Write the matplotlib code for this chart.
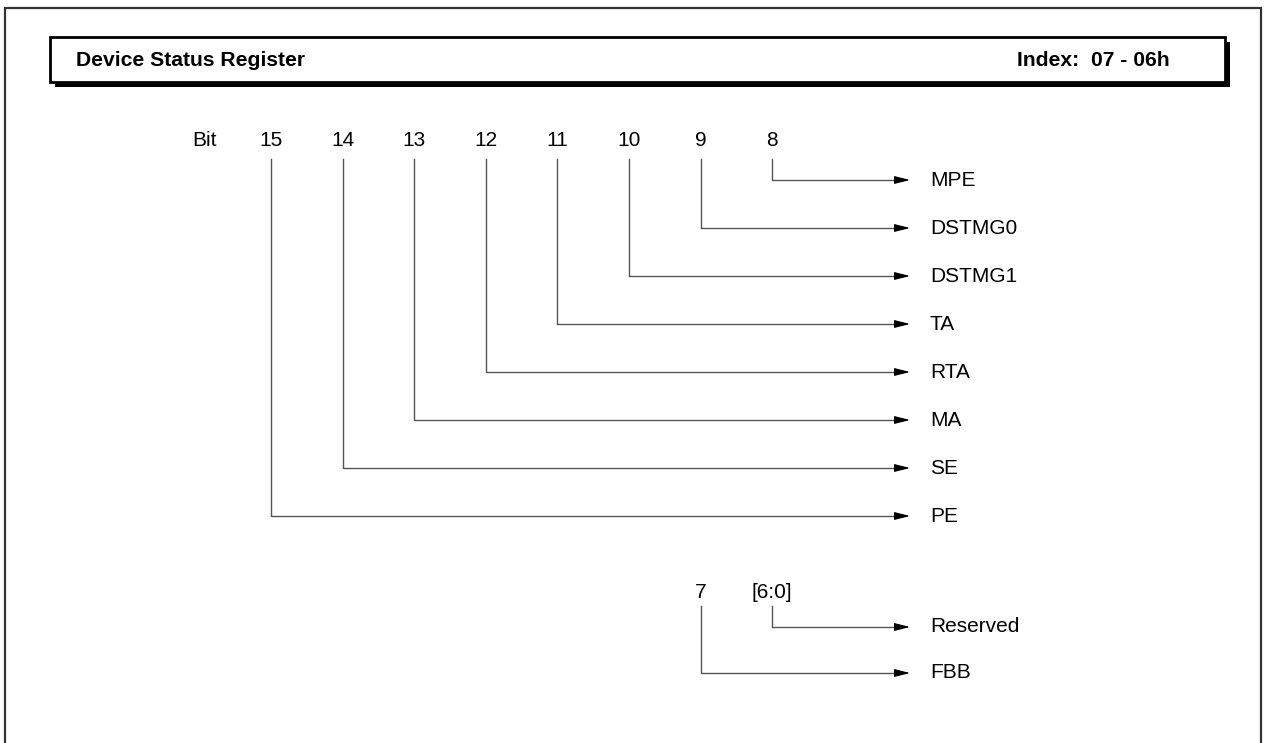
import matplotlib.pyplot as plt
from matplotlib.patches import Rectangle

plt.rcParams['font.family'] = ['Liberation Sans', 'DejaVu Sans']

# register contents
title = 'Device Status Register'
index_text = 'Index:  07 - 06h'
upper_bits = ['15', '14', '13', '12', '11', '10', '9', '8']
upper_names = ['PE', 'SE', 'MA', 'RTA', 'TA', 'DSTMG1', 'DSTMG0', 'MPE']
lower_bits = ['7', '[6:0]']
lower_names = ['FBB', 'Reserved']

W, H = 1266, 743
fig = plt.figure(figsize=(W / 100, H / 100), dpi=100)
ax = fig.add_axes([0, 0, 1, 1])
ax.set_xlim(0, W)
ax.set_ylim(H, 0)
ax.axis('off')

FS = 15

# outer frame (bottom runs off the page)
ax.plot([5, 5, 1261, 1261], [H + 5, 8, 8, H + 5], color='#333333', lw=1.6,
        solid_joinstyle='miter')

# header bar with drop shadow
ax.add_patch(Rectangle((55, 42), 1175, 45, facecolor='black', edgecolor='none'))
ax.add_patch(Rectangle((50, 37), 1175, 45, facecolor='white', edgecolor='black', lw=2))
ax.text(76, 60, title, fontsize=15.2, fontweight='bold', va='center', ha='left')
ax.text(1017, 60, index_text, fontsize=15.2, fontweight='bold', va='center', ha='left')

X0, DX = 271, 71.6
ARROW_END = 910
LINE_C = '#555555'


def arrow(xs, y_top, y):
    ax.plot([xs, xs, ARROW_END - 12], [y_top, y, y], color=LINE_C, lw=1)
    ax.annotate('', xy=(ARROW_END, y), xytext=(ARROW_END - 14, y),
                arrowprops=dict(arrowstyle='-|>,head_length=0.95,head_width=0.24',
                                color='black', lw=0.8, mutation_scale=10,
                                shrinkA=0, shrinkB=0))


# upper group: bits 15..8
ax.text(205, 141, 'Bit', fontsize=FS, ha='center', va='center')
n = len(upper_bits)
for i, (b, name) in enumerate(zip(upper_bits, upper_names)):
    x = X0 + i * DX
    row = n - 1 - i
    y = 180 + row * 48
    ax.text(x, 141, b, fontsize=FS, ha='center', va='center')
    arrow(x, 159, y)
    ax.text(930, y, name, fontsize=FS, ha='left', va='center')

# lower group: bit 7 and [6:0], placed under columns of bits 9 and 8
for i, (b, name) in enumerate(zip(lower_bits, lower_names)):
    x = X0 + (n - 2 + i) * DX
    y = 673 - i * 46
    ax.text(x, 592, b, fontsize=FS, ha='center', va='center')
    arrow(x, 606, y)
    ax.text(930, y, name, fontsize=FS, ha='left', va='center')

fig.savefig('out.png', dpi=100)
